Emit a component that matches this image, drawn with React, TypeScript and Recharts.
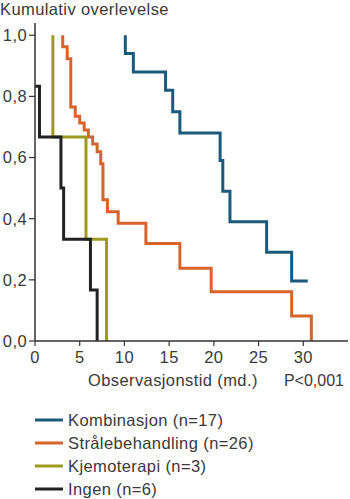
import React from 'react';
import { LineChart, Line, XAxis, YAxis } from 'recharts';

// Tick labels
const xTicks = [0, 5, 10, 15, 20, 25, 30];
const yTicks = [0, 0.2, 0.4, 0.6, 0.8, 1.0];

// Kaplan–Meier steps (time in months, cumulative survival)
const kombinasjonTid = [10.1, 10.1, 11.0, 14.6, 15.4, 16.2, 20.7, 21.0, 21.8, 25.9, 28.7, 30.5];
const kombinasjonOverlevelse = [1.0, 0.94, 0.88, 0.82, 0.75, 0.68, 0.59, 0.49, 0.39, 0.29, 0.196, 0.196];

const straaleTid = [3.1, 3.1, 3.6, 4.0, 4.5, 5.0, 5.5, 5.97, 6.45, 6.95, 7.35, 7.6, 8.1, 9.3, 12.4, 16.2, 19.7, 28.7, 30.9];
const straaleOverlevelse = [1.0, 0.962, 0.923, 0.765, 0.735, 0.713, 0.69, 0.667, 0.644, 0.619, 0.58, 0.462, 0.423, 0.385, 0.319, 0.238, 0.161, 0.082, 0];

const kjemoTid = [2.0, 2.0, 5.7, 8.0];
const kjemoOverlevelse = [1.0, 0.667, 0.333, 0];

const ingenTid = [0, 0.5, 2.9, 3.2, 6.2, 6.95];
const ingenOverlevelse = [0.833, 0.667, 0.5, 0.333, 0.167, 0];

const seriesNames = ['Kombinasjon (n=17)', 'Strålebehandling (n=26)', 'Kjemoterapi (n=3)', 'Ingen (n=6)'];
const seriesColors = ['#1b5a7c', '#d8642b', '#9d9b1f', '#222222'];

const toData = (t: number[], s: number[]) => t.map((x, i) => ({ x, y: s[i] }));

const series = [
  toData(kombinasjonTid, kombinasjonOverlevelse),
  toData(straaleTid, straaleOverlevelse),
  toData(kjemoTid, kjemoOverlevelse),
  toData(ingenTid, ingenOverlevelse),
];

const FONT = '"Liberation Sans", Arial, sans-serif';
const TEXT = '#3a3a3a';
const AXIS = '#333333';

export default function App() {
  return (
    <div style={{ position: 'fixed', left: 0, top: 0, width: 350, height: 499, background: '#fff', overflow: 'hidden' }}>
      <LineChart width={350} height={499} margin={{ top: 23, right: 2, left: 0, bottom: 128 }}>
        <XAxis
          type="number"
          dataKey="x"
          domain={[0, 35]}
          ticks={xTicks}
          interval={0}
          allowDataOverflow
          height={30}
          tickSize={5}
          tickMargin={5}
          stroke={AXIS}
          axisLine={{ stroke: AXIS, strokeWidth: 1.5 }}
          tickLine={{ stroke: AXIS, strokeWidth: 1.2 }}
          tick={{ fill: TEXT, fontSize: 16.5, fontFamily: FONT, letterSpacing: 0.4 }}
        />
        <YAxis
          type="number"
          dataKey="y"
          domain={[0, 1.04]}
          ticks={yTicks}
          interval={0}
          allowDataOverflow
          width={35}
          tickSize={6}
          tickMargin={2}
          stroke={AXIS}
          axisLine={{ stroke: AXIS, strokeWidth: 1.5 }}
          tickLine={{ stroke: AXIS, strokeWidth: 1.2 }}
          tickFormatter={(v: number) => v.toFixed(1).replace('.', ',')}
          tick={{ fill: TEXT, fontSize: 16.5, fontFamily: FONT, letterSpacing: 0.4 }}
        />
        {series.map((d, i) => (
          <Line
            key={seriesNames[i]}
            data={d}
            dataKey="y"
            type="stepAfter"
            stroke={seriesColors[i]}
            strokeWidth={3}
            dot={false}
            activeDot={false}
            isAnimationActive={false}
          />
        ))}
      </LineChart>
      <svg width={350} height={499} style={{ position: 'absolute', left: 0, top: 0, pointerEvents: 'none' }}>
        <text x={0} y={15} fill={TEXT} fontSize={16.5} fontFamily={FONT} letterSpacing={0.4}>Kumulativ overlevelse</text>
        <text x={88} y={386} fill={TEXT} fontSize={16.5} fontFamily={FONT} letterSpacing={0.4}>Observasjonstid (md.)</text>
        <text x={344} y={386} textAnchor="end" fill={TEXT} fontSize={16} fontFamily={FONT}>P&lt;0,001</text>
        {seriesNames.map((n, i) => (
          <g key={n}>
            <line x1={35} x2={63} y1={420 + i * 23} y2={420 + i * 23} stroke={seriesColors[i]} strokeWidth={3} />
            <text x={68} y={425.5 + i * 23} fill={TEXT} fontSize={16.5} fontFamily={FONT} letterSpacing={0.4}>{n}</text>
          </g>
        ))}
      </svg>
    </div>
  );
}
